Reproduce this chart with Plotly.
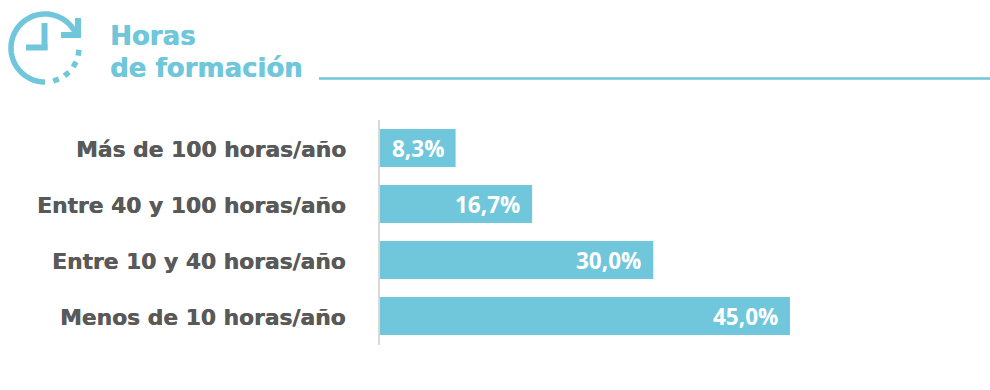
import numpy as np
import plotly.graph_objects as go

categories = ["Más de 100 horas/año", "Entre 40 y 100 horas/año", "Entre 10 y 40 horas/año", "Menos de 10 horas/año"]
values = [8.3, 16.7, 30.0, 45.0]
value_labels = ["8,3%", "16,7%", "30,0%", "45,0%"]
title_lines = ["Horas", "de formación"]

W, H = 990, 390
TEAL = "#70C7DB"
px = lambda x: x / W
py = lambda y: 1 - y / H

fig = go.Figure(go.Bar(
    y=categories, x=values, orientation="h",
    marker=dict(color=TEAL, line=dict(width=0)),
    cliponaxis=False, hoverinfo="skip",
))

fig.update_layout(
    width=W, height=H, margin=dict(l=0, r=0, t=0, b=0),
    paper_bgcolor="white", plot_bgcolor="white", showlegend=False, bargap=0.32,
    xaxis=dict(domain=[px(380), 1], range=[0, 610 / 9.11], visible=False, fixedrange=True),
    yaxis=dict(domain=[py(344), py(120)], autorange="reversed", anchor="free", position=px(380),
               showline=False, ticks="", showgrid=False, zeroline=False, showticklabels=False),
)

for c, v, t in zip(categories, values, value_labels):
    fig.add_annotation(x=px(348), y=c, xref="paper", yref="y", text=c, showarrow=False, xanchor="right", yshift=-1,
                       font=dict(family="DejaVu Sans", size=21.8, color="#595959", weight="bold",
                                 shadow="0.4px 0 0 #595959"))
    fig.add_annotation(x=v, y=c, xref="x", yref="y", text=t, showarrow=False, xanchor="right", xshift=-10,
                       font=dict(family="Open Sans", size=22.5, color="white", weight="bold"))

for line, yc in zip(title_lines, [35.5, 67.5]):
    fig.add_annotation(x=px(108), y=py(yc), xref="paper", yref="paper", text=line, showarrow=False,
                       xanchor="left", yanchor="middle",
                       font=dict(family="DejaVu Sans", size=26, color=TEAL, weight="bold",
                                 shadow="0.4px 0 0 #70C7DB"))

def seg(x0, y0, x1, y1, color=TEAL, w=6):
    fig.add_shape(type="line", xref="paper", yref="paper", x0=px(x0), y0=py(y0), x1=px(x1), y1=py(y1),
                  line=dict(color=color, width=w))

# vertical axis rule and title rule
seg(379, 120, 379, 345, "#D9D9D9", 2)
seg(319, 78.5, 990, 78.5, TEAL, 2.5)

# clock icon
cx, cy, r = 45, 48, 34
ang = np.radians(np.linspace(-28, -270, 80))
pts = [(cx + r * np.cos(a), cy + r * np.sin(a)) for a in ang]
path = "M " + " L ".join(f"{px(x):.5f},{py(y):.5f}" for x, y in pts)
fig.add_shape(type="path", path=path, xref="paper", yref="paper", line=dict(color=TEAL, width=5.5))
seg(78, 18, 78, 38)
seg(61, 35, 81, 35)
seg(44.5, 23, 44.5, 50)
seg(26, 47.5, 47.5, 47.5)
# dashed part of the clock ring: short tangential strokes
for deg in [71, 50, 29, 8]:
    a0, a1 = np.radians(deg - 5), np.radians(deg + 5)
    seg(cx + r * np.cos(a0), cy + r * np.sin(a0), cx + r * np.cos(a1), cy + r * np.sin(a1), TEAL, 5.5)

fig.write_html("out.html", config=dict(displayModeBar=False),
               post_script="document.body.style.margin='0';")
